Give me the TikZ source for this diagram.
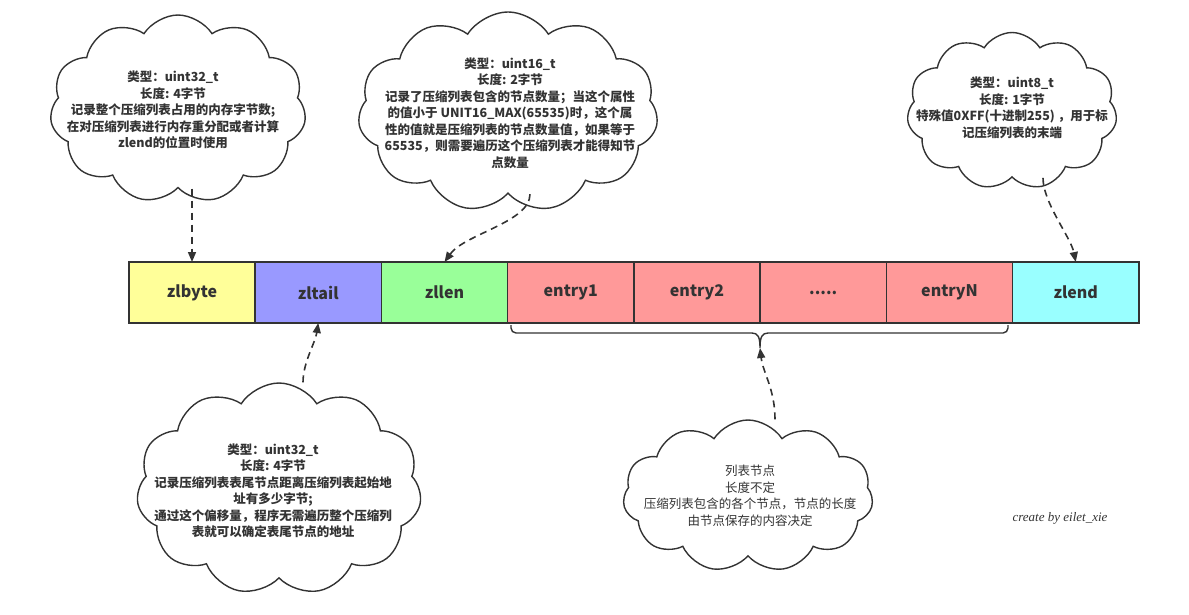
\documentclass[tikz,border=0pt]{standalone}
\usepackage{fontspec}
\newfontfamily\cjk{Noto Sans CJK SC}
\newfontfamily\signfont{Liberation Serif}
\usetikzlibrary{positioning,shapes.symbols,arrows.meta}
\definecolor{ink}{HTML}{333333}
\definecolor{fbyte}{HTML}{FFFF99}
\definecolor{ftail}{HTML}{9999FF}
\definecolor{flen}{HTML}{99FF99}
\definecolor{fentry}{HTML}{FF9999}
\definecolor{fend}{HTML}{99FFFF}

\begin{document}
\begin{tikzpicture}[x=1pt,y=-1pt]
 \tikzstyle{field}=[draw=ink, line width=1.5pt, minimum width=126.25pt, minimum height=61pt, inner sep=0pt, outer sep=0pt, text=ink, font=\cjk\bfseries\fontsize{16}{18}\selectfont]
 \tikzstyle{note}=[draw=ink, line width=1.4pt, cloud, cloud puffs=11, cloud puff arc=115, inner sep=0pt]
 \tikzstyle{notetext}=[align=center, text=ink, inner sep=0pt, font=\cjk\fontsize{12.5}{16.5}\selectfont]
 \tikzstyle{boldtext}=[notetext, font=\cjk\bfseries\fontsize{12.5}{16.5}\selectfont]
 \tikzstyle{dasharrow}=[draw=ink, line width=1.6pt, dash pattern=on 7pt off 5pt, -{Triangle[length=10pt,width=8pt]}]
 \useasboundingbox (0,0) rectangle (1189,614);

 % the ziplist fields
 \node[field, fill=fbyte] (b1) at (192,292.5) {zlbyte};
 \node[field, fill=ftail] (b2) [right=0pt of b1] {zltail};
 \node[field, fill=flen] (b3) [right=0pt of b2] {zllen};
 \node[field, fill=fentry] (b4) [right=0pt of b3] {entry1};
 \node[field, fill=fentry] (b5) [right=0pt of b4] {entry2};
 \node[field, fill=fentry] (b6) [right=0pt of b5] {.....};
 \node[field, fill=fentry] (b7) [right=0pt of b6] {entryN};
 \node[field, fill=fend] (b8) [right=0pt of b7] {zlend};

 % brace under the entries
 \coordinate (tip) at (760,348);
 \draw[ink, line width=1.4pt, rounded corners=5pt] (511,325) -- (511,333) -- (752,333);
 \draw[ink, line width=1.4pt, rounded corners=5pt] (1008,325) -- (1008,333) -- (768,333);
 \draw[ink, line width=1.4pt] (752,333) .. controls (758,333) and (760,337) .. (tip) .. controls (760,337) and (762,333) .. (768,333);

 % clouds
 \node[note, minimum width=256pt, minimum height=188pt] (c1) at (178,109) {};
 \node[boldtext] (t1) at (173,110) {类型：uint32\_t\\长度: 4字节\\记录整个压缩列表占用的内存字节数;\\在对压缩列表进行内存重分配或者计算\\zlend的位置时使用};
 \node[note, minimum width=300pt, minimum height=200pt] (c2) at (508,112) {};
 \node[boldtext] (t2) at (510,113) {类型：uint16\_t\\长度: 2字节\\记录了压缩列表包含的节点数量；当这个属性\\的值小于 UNIT16\_MAX(65535)时，这个属\\性的值就是压缩列表的节点数量值，如果等于\\65535，则需要遍历这个压缩列表才能得知节\\点数量};
 \node[note, minimum width=210pt, minimum height=157pt] (c3) at (1012,111) {};
 \node[boldtext] (t3) at (1012,108) {类型：uint8\_t\\长度: 1字节\\特殊值0XFF(十进制255) ，用于标\\记压缩列表的末端};
 \node[note, minimum width=285pt, minimum height=212pt] (c4) at (279,489) {};
 \node[boldtext] (t4) at (273,491) {类型：uint32\_t\\长度: 4字节\\记录压缩列表表尾节点距离压缩列表起始地\\址有多少字节;\\通过这个偏移量，程序无需遍历整个压缩列\\表就可以确定表尾节点的地址};
 \node[note, minimum width=250pt, minimum height=152pt] (c5) at (748,496) {};
 \node[notetext] (t5) at (750,496) {列表节点\\长度不定\\压缩列表包含的各个节点，节点的长度\\由节点保存的内容决定};

 \draw[dasharrow] (c1.south -| b1.north) -- (b1.north);
 \draw[dasharrow] ([xshift=22pt]c2.south) .. controls +(0,28) and +(20,-28) .. (b3.north);
 \draw[dasharrow] ([xshift=31pt]c3.south) .. controls +(0,25) and +(-5,-25) .. (b8.north);
 \draw[dasharrow] ([xshift=24pt]c4.north) .. controls +(0,-20) and +(-3,20) .. (b2.south);
 \draw[dasharrow] ([xshift=27pt]c5.north) .. controls +(0,-30) and +(3,25) .. (tip);

 \node[font=\signfont\itshape\fontsize{13}{15}\selectfont, text=ink] (sign) at (1060,518) {create by eilet\_xie};
\end{tikzpicture}
\end{document}
